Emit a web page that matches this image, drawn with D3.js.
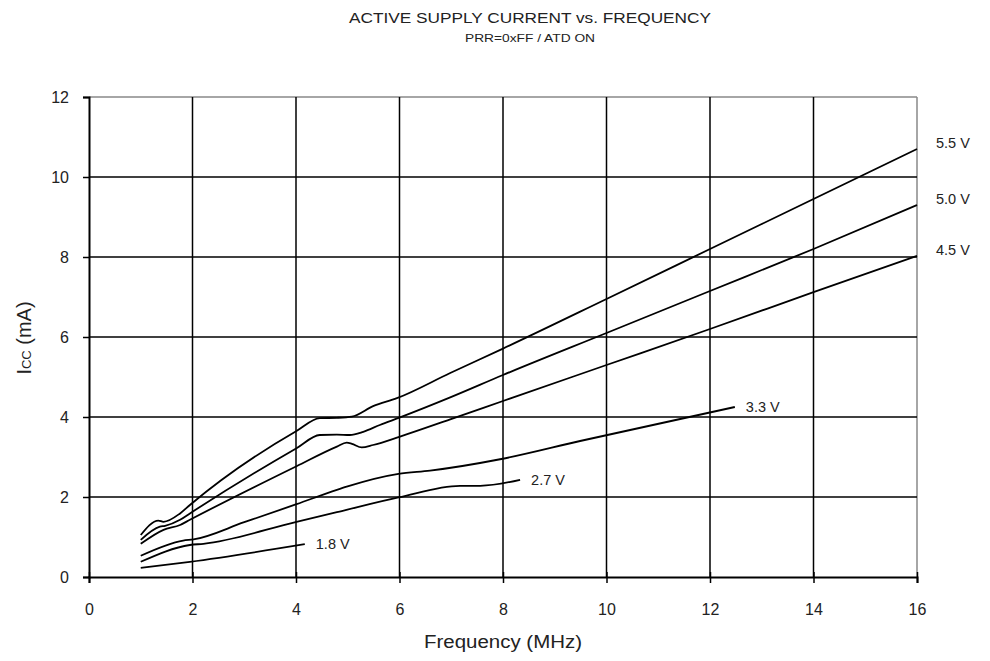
<!DOCTYPE html>
<html><head><meta charset="utf-8">
<script src="https://cdn.jsdelivr.net/npm/d3@7/dist/d3.min.js"></script>
<style>body{margin:0;background:#fff}svg{display:block;font-family:"Liberation Sans",Arial,sans-serif}</style>
</head><body><svg id="c" width="990" height="661"></svg>
<script>
const xTicks = [0,2,4,6,8,10,12,14,16];
const yTicks = [0,2,4,6,8,10,12];

const f55 = [1.0,1.34,1.44,1.76,1.95,4.01,4.46,4.79,5.08,5.49,5.95,6.98,8,10,12,14,16];
const i55 = [1.05,1.41,1.38,1.59,1.80,3.65,3.97,3.98,4.01,4.27,4.47,5.10,5.71,6.95,8.2,9.45,10.7];
const f50 = [1.0,1.37,1.47,1.76,1.95,4.01,4.46,4.79,5.04,5.30,5.62,6.01,6.98,8,10,12,14,16];
const i50 = [0.93,1.26,1.28,1.43,1.59,3.22,3.55,3.56,3.55,3.63,3.80,3.99,4.49,5.05,6.1,7.15,8.2,9.3];
const f45 = [1.0,1.44,1.76,1.95,4.01,4.79,4.98,5.08,5.27,5.49,6.01,6.98,8,10,12,14,16];
const i45 = [0.83,1.18,1.30,1.43,2.77,3.26,3.36,3.33,3.24,3.30,3.51,3.94,4.4,5.3,6.2,7.12,8.03];
const f33 = [1.0,1.82,2.02,3.0,4.01,4.79,4.98,5.98,6.59,7.97,9.49,12.48];
const i33 = [0.53,0.91,0.94,1.37,1.82,2.18,2.26,2.58,2.66,2.95,3.4,4.25];
const f27 = [1.0,1.95,2.21,4.01,4.79,5.98,7.17,7.56,8.33];
const i27 = [0.38,0.80,0.83,1.38,1.62,1.99,2.28,2.28,2.43];
const f18 = [1.0,1.95,4.17];
const i18 = [0.23,0.38,0.82];

const seriesNames = ["5.5 V","5.0 V","4.5 V","3.3 V","2.7 V","1.8 V"];
const seriesF = [f55,f50,f45,f33,f27,f18];
const seriesI = [i55,i50,i45,i33,i27,i18];

const svg = d3.select("#c");
const L=89, R=917, T=97, B=577;
const x = d3.scaleLinear().domain([0,16]).range([L,R]);
const y = d3.scaleLinear().domain([0,12]).range([B,T]);
const txt = "#222";

// title
svg.append("text").attr("x",530).attr("y",23).attr("text-anchor","middle")
  .attr("font-size",14).attr("fill",txt)
  .attr("textLength",362).attr("lengthAdjust","spacingAndGlyphs")
  .text("ACTIVE SUPPLY CURRENT vs. FREQUENCY");
svg.append("text").attr("x",530).attr("y",42).attr("text-anchor","middle")
  .attr("font-size",11.5).attr("fill",txt)
  .attr("textLength",130).attr("lengthAdjust","spacingAndGlyphs")
  .text("PRR=0xFF / ATD ON");

// frame (gray top/right)
svg.append("line").attr("x1",L).attr("x2",R).attr("y1",T).attr("y2",T).attr("stroke","#888").attr("stroke-width",1.5);
svg.append("line").attr("x1",R).attr("x2",R).attr("y1",T).attr("y2",B).attr("stroke","#888").attr("stroke-width",1.5);

// grid
const g = svg.append("g");
g.selectAll(".vg").data(xTicks.filter(d=>d>0&&d<16)).join("line")
  .attr("x1",d=>x(d)).attr("x2",d=>x(d)).attr("y1",T).attr("y2",B)
  .attr("stroke","#000").attr("stroke-width",1.5);
g.selectAll(".hg").data(yTicks.filter(d=>d>0&&d<12)).join("line")
  .attr("x1",L).attr("x2",R).attr("y1",d=>y(d)).attr("y2",d=>y(d))
  .attr("stroke","#000").attr("stroke-width",1.5);

// axes
const xa = svg.append("g").attr("transform",`translate(0,${B})`)
  .call(d3.axisBottom(x).tickValues(xTicks).tickSize(6).tickPadding(21).tickFormat(d3.format("d")));
xa.select(".domain").attr("stroke","#000").attr("stroke-width",2);
xa.selectAll(".tick line").attr("stroke","#000").attr("stroke-width",1.5).attr("y1",-5);
xa.selectAll("text").attr("font-size",16).attr("fill",txt).attr("font-family","Liberation Sans, Arial, sans-serif");

const ya = svg.append("g").attr("transform",`translate(${L},0)`)
  .call(d3.axisLeft(y).tickValues(yTicks).tickSize(6).tickPadding(14).tickFormat(d3.format("d")));
ya.select(".domain").attr("stroke","#000").attr("stroke-width",2);
ya.selectAll(".tick line").attr("stroke","#000").attr("stroke-width",1.5);
ya.selectAll("text").attr("font-size",16).attr("fill",txt).attr("font-family","Liberation Sans, Arial, sans-serif");

// axis titles
svg.append("text").attr("x",503).attr("y",648).attr("text-anchor","middle")
  .attr("font-size",18).attr("fill",txt)
  .attr("textLength",158).attr("lengthAdjust","spacingAndGlyphs")
  .text("Frequency (MHz)");
const yt = svg.append("text").attr("transform","translate(31,338) rotate(-90)").attr("text-anchor","middle")
  .attr("font-size",20).attr("fill",txt);
yt.append("tspan").text("I");
yt.append("tspan").attr("font-size",13).text("CC");
yt.append("tspan").text(" (mA)");

// curves
const line = d3.line().x(d=>x(d[0])).y(d=>y(d[1])).curve(d3.curveMonotoneX);
seriesNames.forEach((name,k)=>{
  const pts = seriesF[k].map((f,j)=>[f,seriesI[k][j]]);
  svg.append("path").attr("d",line(pts)).attr("fill","none").attr("stroke","#000").attr("stroke-width",1.8);
  const last = pts[pts.length-1];
  const atEdge = last[0]>=16;
  svg.append("text")
    .attr("x", atEdge ? 936 : x(last[0])+11)
    .attr("y", atEdge ? y(last[1])-1 : y(last[1])+5)
    .attr("font-size",14.5).attr("fill",txt).text(name);
});
</script></body></html>
